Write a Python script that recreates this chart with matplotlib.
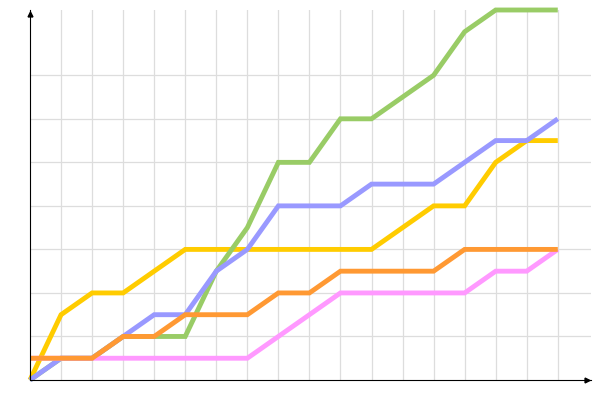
import matplotlib
matplotlib.use("Agg")
from matplotlib import pyplot as plt

# one point per grid column
days = list(range(18))

yellow = [0, 3, 4, 4, 5, 6, 6, 6, 6, 6, 6, 6, 7, 8, 8, 10, 11, 11]
green = [0, 1, 1, 2, 2, 2, 5, 7, 10, 10, 12, 12, 13, 14, 16, 17, 17, 17]
blue = [0, 1, 1, 2, 3, 3, 5, 6, 8, 8, 8, 9, 9, 9, 10, 11, 11, 12]
pink = [1, 1, 1, 1, 1, 1, 1, 1, 2, 3, 4, 4, 4, 4, 4, 5, 5, 6]
orange = [1, 1, 1, 2, 2, 3, 3, 3, 4, 4, 5, 5, 5, 5, 6, 6, 6, 6]

series = [
    (yellow, "#ffcc00"),
    (green, "#99cc66"),
    (blue, "#9999ff"),
    (pink, "#ff99ff"),
    (orange, "#ff9933"),
]

y_grid = [2, 4, 6, 8, 10, 12, 14]


def plot_lines():
    fig = plt.figure(figsize=(6, 4), dpi=100)
    ax = fig.add_axes([0.05, 0.05, 0.935, 0.925])
    ax.set_xlim(0, 18.07)
    ax.set_ylim(0, 17)

    # grid
    for x in days[1:]:
        ax.axvline(x, color="#dddddd", lw=0.9, zorder=0)
    for y in y_grid:
        ax.axhline(y, color="#dddddd", lw=0.9, zorder=0)

    for values, color in series:
        ax.plot(days, values, color=color, lw=3.5, clip_on=False,
                solid_capstyle="butt", solid_joinstyle="miter", zorder=2)

    # axes with small arrows
    for side in ["top", "right"]:
        ax.spines[side].set_visible(False)
    ax.spines["left"].set_linewidth(0.8)
    ax.spines["bottom"].set_linewidth(0.8)
    ax.plot(0, 0.99, marker="^", color="black", ms=3.5,
            transform=ax.transAxes, clip_on=False)
    ax.plot(0.992, 0, marker=">", color="black", ms=3.5,
            transform=ax.transAxes, clip_on=False)

    ax.set_xticks([])
    ax.set_yticks([])
    fig.savefig("out.png", dpi=100)


plot_lines()
